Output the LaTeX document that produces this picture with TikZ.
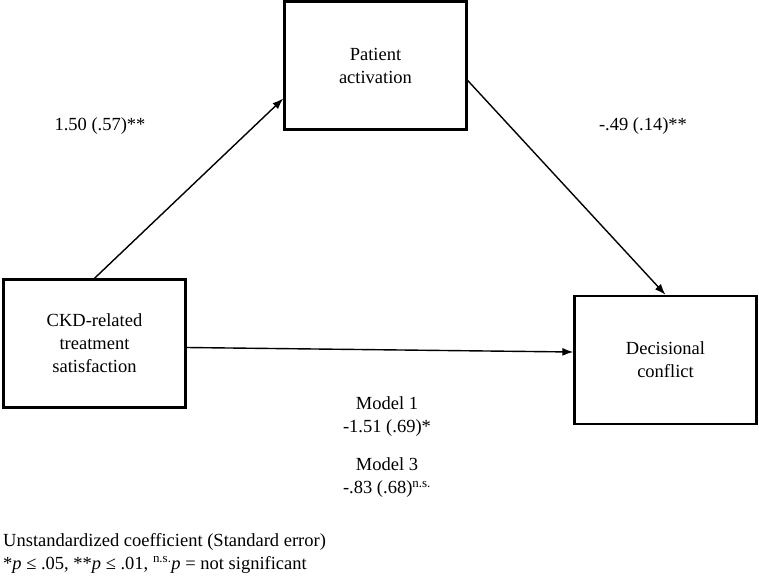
\documentclass[tikz,border=0pt]{standalone}
\usepackage{fontspec}
\setmainfont{Liberation Serif}
\usepackage{tikz}
\usetikzlibrary{arrows.meta,positioning}
\tikzset{>={Latex[width=8pt,length=11pt]}}
\tikzset{varbox/.style={draw, line width=2.4pt, minimum width=182pt, minimum height=128pt, align=center, inner sep=0pt},
  coef/.style={inner sep=0pt, align=center}}

\begin{document}
\begin{tikzpicture}[x=1pt, y=-1pt]

  \useasboundingbox (0,0) rectangle (759,576);
  \fontsize{18.5}{23}\selectfont

  \node[varbox] (pa) at (375.5, 65.5) {Patient\\activation};
  \node[varbox] (ckd) at (94.5, 343.5) {CKD-related\\treatment\\satisfaction};
  \node[varbox] (dc) at (665.5, 360) {Decisional\\conflict};

  \draw[->, line width=1.4pt] (ckd.north) -- ([yshift=-33pt]pa.west);
  \draw[->, line width=1.4pt] ([yshift=-15pt]pa.east) -- (dc.north);
  \draw[->, line width=1.4pt] ([yshift=-4pt]ckd.east) -- ([yshift=8pt]dc.west);

  \node[coef] (a) at (100, 126) {1.50 (.57)**};
  \node[coef] (b) at (643, 126) {-.49 (.14)**};
  \node[coef] (m1) at (387, 417) {Model 1\\-1.51 (.69)*};
  \node[coef] (m3) at (387, 478) {Model 3\\-.83 (.68)\textsuperscript{n.s.}};

%  note under the figure
  \node[coef, anchor=west, align=left] (note) at (3, 553)
    {Unstandardized coefficient (Standard error)\\
     *\textit{p} ≤ .05, **\textit{p} ≤ .01, \textsuperscript{n.s.}\textit{p} = not significant};

\end{tikzpicture}
\end{document}
